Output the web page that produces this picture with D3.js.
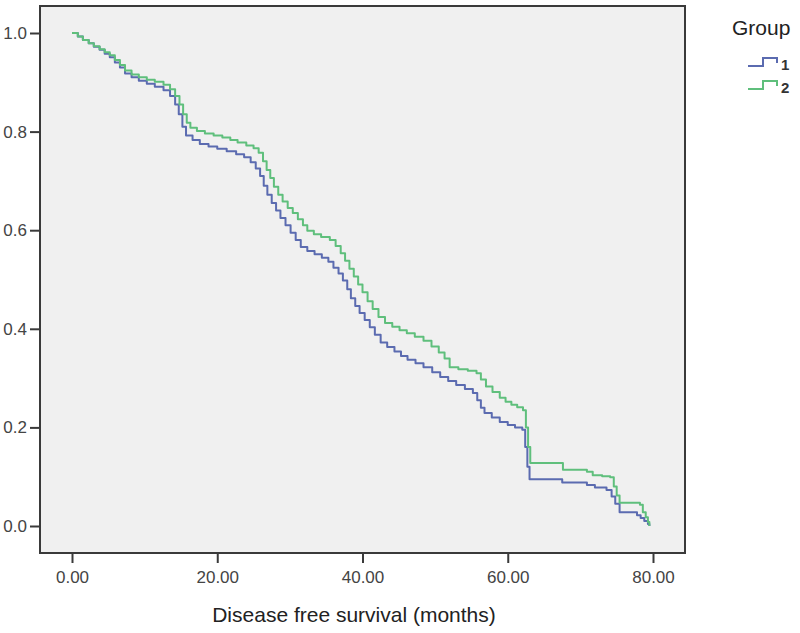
<!DOCTYPE html>
<html><head><meta charset="utf-8">
<script src="https://cdn.jsdelivr.net/npm/d3@7"></script>
<style>body{margin:0;background:#fff}svg{display:block}</style>
</head><body>
<svg id="chart" width="800" height="633"></svg>
<script>
// Group 1 (blue)
const time1 = [0,0.8,1.5,2.3,3.0,3.8,4.5,5.2,5.9,6.6,7.3,8.2,9.2,10.3,11.4,12.6,13.5,14.2,14.7,15.2,15.7,16.6,17.6,18.8,20.0,21.3,22.6,23.7,24.6,25.3,25.9,26.4,26.9,27.5,28.1,28.7,29.4,30.1,30.8,31.5,32.4,33.4,34.4,35.3,36.0,36.7,37.3,37.9,38.4,39.0,39.6,40.3,41.0,41.7,42.5,43.4,44.4,45.3,46.2,47.3,48.4,49.6,50.7,51.8,52.9,54.1,55.2,55.8,56.3,56.8,57.8,58.9,60.0,61.0,62.0,62.4,62.7,63.0,67.5,70.9,72.0,73.6,74.3,74.8,75.4,77.8,78.3,78.8,79.3,79.5];
const surv1 = [1.0,0.993,0.986,0.979,0.972,0.966,0.958,0.951,0.94,0.93,0.918,0.91,0.903,0.897,0.891,0.884,0.872,0.855,0.835,0.81,0.792,0.783,0.775,0.77,0.765,0.76,0.754,0.748,0.738,0.725,0.71,0.69,0.672,0.655,0.64,0.625,0.61,0.595,0.58,0.566,0.558,0.551,0.544,0.536,0.524,0.512,0.498,0.48,0.462,0.446,0.432,0.418,0.403,0.388,0.372,0.363,0.354,0.345,0.337,0.33,0.322,0.312,0.302,0.294,0.286,0.278,0.27,0.255,0.24,0.229,0.22,0.211,0.205,0.2,0.195,0.16,0.12,0.095,0.088,0.083,0.078,0.073,0.06,0.045,0.028,0.022,0.016,0.01,0.004,0.0];
// Group 2 (green)
const time2 = [0,0.8,1.5,2.3,3.0,3.8,4.5,5.2,5.9,6.6,7.3,8.2,9.2,10.3,11.4,12.6,13.5,14.2,14.8,15.3,15.8,16.3,17.2,18.3,19.5,20.7,21.8,22.8,24.0,25.0,25.7,26.3,26.8,27.3,27.8,28.4,29.0,29.7,30.4,31.1,31.8,32.4,33.3,34.3,35.5,36.3,37.0,37.6,38.2,38.8,39.4,40.0,40.7,41.4,42.2,43.1,44.1,45.1,46.1,47.2,48.4,49.5,50.5,51.3,52.0,53.2,54.5,55.7,56.3,57.0,57.9,58.9,59.7,60.5,61.3,62.1,62.5,62.8,63.1,67.6,70.9,71.7,73.0,74.1,74.6,75.0,75.4,78.2,78.6,79.0,79.3,79.5];
const surv2 = [1.0,0.993,0.986,0.979,0.973,0.967,0.961,0.955,0.945,0.935,0.924,0.916,0.91,0.905,0.901,0.895,0.886,0.872,0.855,0.835,0.818,0.808,0.801,0.796,0.792,0.788,0.783,0.778,0.772,0.766,0.757,0.74,0.722,0.706,0.688,0.672,0.658,0.645,0.635,0.622,0.61,0.599,0.592,0.586,0.58,0.568,0.553,0.538,0.522,0.506,0.49,0.474,0.456,0.44,0.424,0.412,0.404,0.397,0.391,0.384,0.376,0.364,0.352,0.34,0.322,0.318,0.315,0.31,0.297,0.283,0.272,0.26,0.252,0.246,0.241,0.235,0.2,0.16,0.128,0.114,0.11,0.103,0.101,0.099,0.08,0.062,0.047,0.043,0.028,0.018,0.008,0.0];

const groups = ["1","2"];
const groupColors = ["#5b6bb0","#5fbf7c"];
const xTicks = [0,20,40,60,80];
const yTicks = [0,0.2,0.4,0.6,0.8,1.0];
const xTitle = "Disease free survival (months)";
const legendTitle = "Group";

const svg = d3.select("#chart");
const font = "'Liberation Sans', Arial, sans-serif";

const x = d3.scaleLinear().domain([0,80]).range([72,653]);
const y = d3.scaleLinear().domain([0,1]).range([526,33]);

// plot background and frame
svg.append("rect").attr("x",40).attr("y",6).attr("width",645).attr("height",547)
  .attr("fill","#f0f0f0").attr("stroke","none");

const series = [
  {name:groups[0], t:time1, s:surv1, color:groupColors[0]},
  {name:groups[1], t:time2, s:surv2, color:groupColors[1]}
];

const line = d3.line().x(d=>x(d[0])).y(d=>y(d[1])).curve(d3.curveStepAfter);
series.forEach(sr=>{
  const pts = sr.t.map((t,i)=>[t,sr.s[i]]);
  svg.append("path").datum(pts).attr("d",line)
    .attr("fill","none").attr("stroke",sr.color).attr("stroke-width",2)
    .attr("stroke-linejoin","round");
});

svg.append("rect").attr("x",40).attr("y",6).attr("width",645).attr("height",547)
  .attr("fill","none").attr("stroke","#3a3a3a").attr("stroke-width",2);

// axes
const yAxis = svg.append("g").attr("transform","translate(40,0)")
  .call(d3.axisLeft(y).tickValues(yTicks).tickFormat(d3.format(".1f")).tickSize(10).tickPadding(3));
const xAxis = svg.append("g").attr("transform","translate(0,553)")
  .call(d3.axisBottom(x).tickValues(xTicks).tickFormat(d3.format(".2f")).tickSize(10).tickPadding(8));
[yAxis,xAxis].forEach(g=>{
  g.select(".domain").remove();
  g.selectAll(".tick line").attr("stroke","#3a3a3a").attr("stroke-width",2);
  g.selectAll(".tick text").attr("fill","#444").style("font-family",font).style("font-size","17px");
});

svg.append("text").attr("x",354).attr("y",622).attr("text-anchor","middle")
  .style("font-family",font).style("font-size","21px").attr("fill","#222").text(xTitle);

// legend
svg.append("text").attr("x",732).attr("y",35)
  .style("font-family",font).style("font-size","21px").attr("fill","#222").text(legendTitle);
series.forEach((sr,i)=>{
  const yb = 66 + i*23;
  svg.append("path")
    .attr("d",`M748,${yb}H763V${yb-8}H777V${yb-3}`)
    .attr("fill","none").attr("stroke",sr.color).attr("stroke-width",2);
  svg.append("text").attr("x",781).attr("y",yb+4)
    .style("font-family",font).style("font-size","15px").style("font-weight","bold")
    .attr("fill","#333").text(sr.name);
});
</script>
</body></html>
